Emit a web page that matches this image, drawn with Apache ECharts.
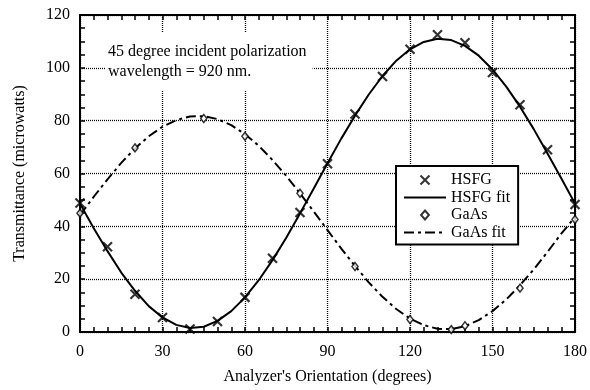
<!DOCTYPE html>
<html><head><meta charset="utf-8">
<script src="https://cdn.jsdelivr.net/npm/echarts@6/dist/echarts.min.js"></script>
<style>html,body{margin:0;padding:0;background:#fff}#c{width:590px;height:390px}</style>
</head><body><div id="c"></div>
<script>
const hsfgAngles = [0,10,20,30,40,50,60,70,80,90,100,110,120,130,140,150,160,170,180];
const hsfgValues = [48.8,32.3,14.3,5.5,1.1,4.0,13.1,27.9,45.2,63.7,82.5,96.7,107.0,112.5,109.5,98.2,86.0,69.0,48.3];
const gaasAngles = [0,20,45,60,80,100,120,135,140,160,180];
const gaasValues = [45.0,69.7,80.8,74.1,52.5,24.8,4.7,0.9,2.4,16.6,42.6];
// Fit curves read every 5 degrees
const fitAngles = [0,5,10,15,20,25,30,35,40,45,50,55,60,65,70,75,80,85,90,95,100,105,110,115,120,125,130,135,140,145,150,155,160,165,170,175,180];
const hsfgFit = [48.6,39.3,30.6,22.5,15.6,9.8,5.5,2.7,1.5,2.0,4.2,7.9,13.1,19.6,27.2,35.7,44.9,54.3,63.9,73.2,81.9,89.9,96.9,102.7,107.0,109.8,111.0,110.5,108.3,104.6,99.4,92.9,85.3,76.8,67.6,58.2,48.6];
const gaasFit = [44.2,51.2,57.8,64.0,69.5,74.1,77.7,80.2,81.6,81.7,80.6,78.3,74.9,70.5,65.1,59.1,52.5,45.6,38.6,31.6,25.0,18.8,13.3,8.7,5.1,2.6,1.2,1.1,2.2,4.5,7.9,12.3,17.7,23.7,30.3,37.2,43.5];
const seriesNames = ['HSFG','HSFG fit','GaAs','GaAs fit'];
const xTicks = {min:0, max:180, interval:30};
const yTicks = {min:0, max:120, interval:20};
const xTitle = "Analyzer's Orientation (degrees)";
const yTitle = 'Transmittance (microwatts)';
const noteText = '45 degree incident polarization\nwavelength = 920 nm.';

const FONT = "'Liberation Serif','Times New Roman',serif";
const zip = (xs, ys) => xs.map((x, i) => [x, ys[i]]);
const frameLine = {show:true, onZero:false, lineStyle:{color:'#000', width:2}};
const tick = {show:true, inside:true, length:5, lineStyle:{color:'#000', width:1.5}};
const grid = {show:true, lineStyle:{color:'#000', width:1.3, type:[1,1]}};
const crossPath = 'path://M0,0L10,10M0,10L10,0';
const diamondPath = 'path://M7,0L14,8L7,16L0,8Z';

const chart = echarts.init(document.getElementById('c'), null, {renderer:'canvas'});
chart.setOption({
  animation:false,
  backgroundColor:'#fff',
  grid:{left:80, right:13, top:15, bottom:57},
  xAxis:[
    {type:'value', min:xTicks.min, max:xTicks.max, interval:xTicks.interval, position:'bottom',
     name:xTitle, nameLocation:'middle', nameGap:37,
     nameTextStyle:{fontFamily:FONT, fontSize:16, color:'#000'},
     axisLine:frameLine, axisTick:tick,
     minorTick:{show:true, splitNumber:6, length:5, lineStyle:{color:'#000', width:1.5}},
     axisLabel:{fontFamily:FONT, fontSize:16, color:'#000', margin:12},
     splitLine:grid},
    {type:'value', min:xTicks.min, max:xTicks.max, interval:xTicks.interval, position:'top',
     axisLine:frameLine, axisTick:tick,
     minorTick:{show:true, splitNumber:6, length:5, lineStyle:{color:'#000', width:1.5}},
     axisLabel:{show:false}, splitLine:{show:false}}
  ],
  yAxis:[
    {type:'value', min:yTicks.min, max:yTicks.max, interval:yTicks.interval, position:'left',
     name:yTitle, nameLocation:'middle', nameGap:52,
     nameTextStyle:{fontFamily:FONT, fontSize:16, color:'#000'},
     axisLine:frameLine, axisTick:tick,
     minorTick:{show:true, splitNumber:4, length:5, lineStyle:{color:'#000', width:1.5}},
     axisLabel:{fontFamily:FONT, fontSize:16, color:'#000', margin:10},
     splitLine:grid},
    {type:'value', min:yTicks.min, max:yTicks.max, interval:yTicks.interval, position:'right',
     axisLine:frameLine, axisTick:tick,
     minorTick:{show:true, splitNumber:4, length:5, lineStyle:{color:'#000', width:1.5}},
     axisLabel:{show:false}, splitLine:{show:false}}
  ],
  legend:{
    orient:'vertical', left:396, top:166,
    backgroundColor:'#fff', borderColor:'#000', borderWidth:2, borderRadius:0,
    padding:[6,8,4,7], itemWidth:42, itemHeight:9, itemGap:1.5,
    symbolKeepAspect:true,
    textStyle:{fontFamily:FONT, fontSize:16, color:'#000', lineHeight:16},
    data:[
      {name:seriesNames[0]},
      {name:seriesNames[1], itemStyle:{opacity:0}},
      {name:seriesNames[2]},
      {name:seriesNames[3], itemStyle:{opacity:0}}
    ]
  },
  graphic:[{
    type:'text', left:105, top:33, z:100,
    style:{text:noteText, font:'16px ' + FONT, fill:'#000', backgroundColor:'#fff',
           padding:[9,6,8,3], lineHeight:20}
  }],
  series:[
    {name:seriesNames[0], type:'scatter', xAxisIndex:0, yAxisIndex:0, z:5,
     symbol:crossPath, symbolSize:9, symbolKeepAspect:true,
     itemStyle:{color:'rgba(0,0,0,0)', borderColor:'#000', borderWidth:2.2},
     data:zip(hsfgAngles, hsfgValues)},
    {name:seriesNames[1], type:'line', xAxisIndex:0, yAxisIndex:0, symbol:'none', z:4,
     lineStyle:{color:'#000', width:2}, itemStyle:{color:'#000'},
     data:zip(fitAngles, hsfgFit)},
    {name:seriesNames[2], type:'scatter', xAxisIndex:0, yAxisIndex:0, z:5,
     symbol:diamondPath, symbolSize:[7,8], symbolKeepAspect:true,
     itemStyle:{color:'#fff', borderColor:'#000', borderWidth:1.5},
     data:zip(gaasAngles, gaasValues)},
    {name:seriesNames[3], type:'line', xAxisIndex:0, yAxisIndex:0, symbol:'none', z:4,
     lineStyle:{color:'#000', width:2, type:[10,4,3,4]}, itemStyle:{color:'#000'},
     data:zip(fitAngles, gaasFit)}
  ]
});
</script>
</body></html>
